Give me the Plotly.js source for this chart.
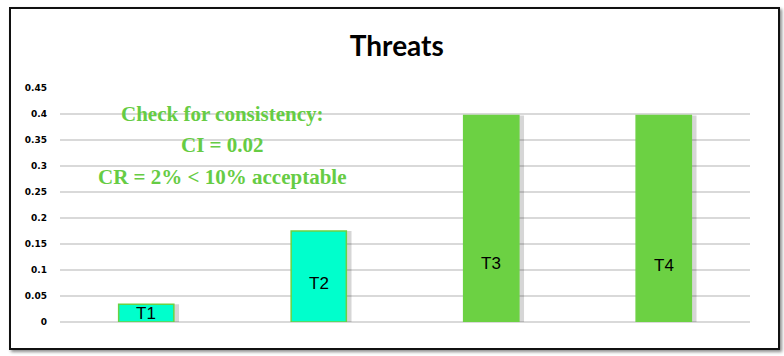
<!DOCTYPE html>
<html>
<head>
<meta charset="utf-8">
<script src="https://cdn.plot.ly/plotly-3.0.1.min.js"></script>
<style>
  html, body { margin: 0; padding: 0; background: #fff; }
  #frame {
    position: absolute; left: 9px; top: 7px;
    width: 767px; height: 339px;
    border: 2px solid #111;
    box-shadow: 2px 2px 3px rgba(0,0,0,0.45);
    background: #fff;
  }
  #chart { width: 767px; height: 339px; }
</style>
</head>
<body>
<div id="frame"><div id="chart"></div></div>
<script>
// Threat weights (AHP priority vector)
const categories = ['T1', 'T2', 'T3', 'T4'];
const weights = [0.034, 0.175, 0.397, 0.397];
const labelAt = [0.017, 0.075, 0.113, 0.108];   // where the T-labels sit inside each bar
const fills = ['#00FFCC', '#00FFCC', '#6CD143', '#6CD143'];
const outlines = ['#6CD143', '#6CD143', '#6CD143', '#6CD143'];
const notes = ['Check for consistency:', 'CI = 0.02', 'CR = 2% < 10% acceptable'];
const noteY = [0.40, 0.34, 0.279];

const GREEN = '#66CC44';

const shadow = {
    type: 'bar',
    x: categories,
    y: weights,
    width: 0.32,
    offset: -0.13,
    marker: { color: 'rgba(0,0,0,0.16)', line: { width: 0 } },
    hoverinfo: 'skip',
    showlegend: false
};

const bars = {
    type: 'bar',
    x: categories,
    y: weights,
    width: 0.32,
    marker: { color: fills, line: { color: outlines, width: 1.5 } },
    hovertemplate: '%{x}: %{y:.3f}<extra></extra>',
    showlegend: false
};

const barLabels = categories.map((c, i) => ({
    x: c, y: labelAt[i], xref: 'x', yref: 'y',
    text: c, showarrow: false,
    font: { family: 'Liberation Sans, Arial, sans-serif', size: 17, color: '#000' }
}));

const noteLabels = notes.map((t, i) => ({
    x: 0.235, y: noteY[i], xref: 'paper', yref: 'y',
    xanchor: 'center', yanchor: 'middle',
    text: '<b>' + t + '</b>', showarrow: false,
    font: { family: 'Liberation Serif, serif', size: 21, color: GREEN }
}));

const layout = {
    width: 767,
    height: 339,
    margin: { l: 49, r: 28, t: 79, b: 26 },
    paper_bgcolor: '#fff',
    plot_bgcolor: '#fff',
    barmode: 'overlay',
    title: {
        text: '<b>Threats</b>',
        x: 0.503, xanchor: 'center',
        y: 0.89, yanchor: 'middle',
        font: { family: 'Lato, DejaVu Sans, sans-serif', size: 28, color: '#000' }
    },
    xaxis: {
        showticklabels: false,
        showgrid: false,
        zeroline: false,
        showline: false,
        ticks: ''
    },
    yaxis: {
        range: [0, 0.45],
        dtick: 0.05,
        tick0: 0,
        showgrid: true,
        gridcolor: '#D9D9D9',
        gridwidth: 1.5,
        zeroline: true,
        zerolinecolor: '#D9D9D9',
        zerolinewidth: 1.5,
        showline: false,
        ticks: '',
        ticklabelstandoff: 12,
        tickfont: { family: 'DejaVu Sans, Verdana, sans-serif', size: 9, weight: 'bold', color: '#000' }
    },
    annotations: [...barLabels, ...noteLabels]
};

Plotly.newPlot('chart', [shadow, bars], layout, { displayModeBar: false, staticPlot: true });
</script>
</body>
</html>
